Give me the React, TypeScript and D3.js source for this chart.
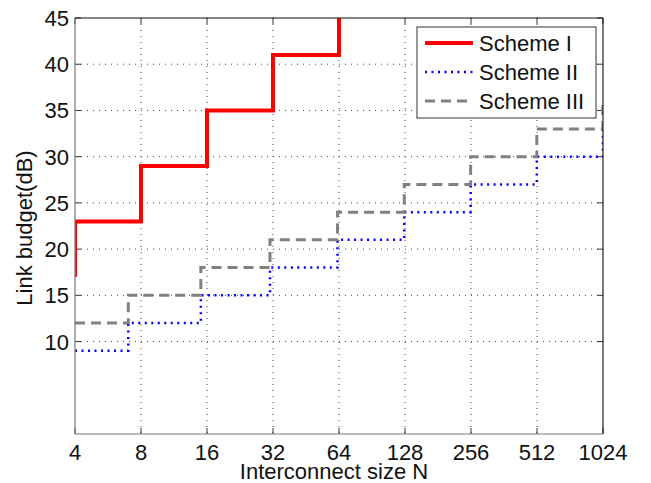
import React from "react";
import * as d3 from "d3";

// Axis ticks
const xTicks = [4, 8, 16, 32, 64, 128, 256, 512, 1024];
const yTicks = [10, 15, 20, 25, 30, 35, 40, 45];

// Step series: each point starts a new level (drawn with curveStepAfter)
const schemeIN = [4, 4, 8, 16, 32, 64];
const schemeIdB = [17, 23, 29, 35, 41, 47];

const schemeIIN = [4, 7, 15, 31, 63, 127, 255, 511, 1023, 1024];
const schemeIIdB = [9, 12, 15, 18, 21, 24, 27, 30, 33, 33];

const schemeIIIN = [4, 7, 15, 31, 63, 127, 255, 511, 1023, 1024];
const schemeIIIdB = [12, 15, 18, 21, 24, 27, 30, 33, 36, 36];

const legendLabels = ["Scheme I", "Scheme II", "Scheme III"];

const W = 651;
const H = 483;
const M = { left: 75, right: 603, top: 18, bottom: 434 };
const FONT = "'Liberation Sans', Arial, sans-serif";
const FS = 22;

export default function App() {
  const x = d3.scaleLog().base(2).domain([4, 1024]).range([M.left, M.right]);
  const y = d3.scaleLinear().domain([0, 45]).range([M.bottom, M.top]);

  const line = d3
    .line<[number, number]>()
    .x((d) => x(d[0]))
    .y((d) => y(d[1]))
    .curve(d3.curveStepAfter);

  const zip = (a: number[], b: number[]) => a.map((v, i) => [v, b[i]] as [number, number]);

  const series = [
    { d: line(zip(schemeIN, schemeIdB)), stroke: "#ff0000", width: 4, dash: undefined as string | undefined },
    { d: line(zip(schemeIIN, schemeIIdB)), stroke: "#0000ff", width: 2.5, dash: "2,4.5" },
    { d: line(zip(schemeIIIN, schemeIIIdB)), stroke: "#808080", width: 3, dash: "10,6" },
  ];

  const tickLen = 6;
  const legend = { x: 417, y: 27, w: 179, h: 91 };

  return (
    <svg
      width={W}
      height={H}
      style={{ position: "absolute", left: 0, top: 0, background: "#fff" }}
      fontFamily={FONT}
    >
      <defs>
        <clipPath id="plot-area">
          <rect x={M.left} y={M.top} width={M.right - M.left} height={M.bottom - M.top} />
        </clipPath>
      </defs>

      {/* grid */}
      <g stroke="#444" strokeWidth={1} strokeDasharray="1,5">
        {xTicks.slice(1, -1).map((t) => (
          <line key={"gx" + t} x1={x(t)} x2={x(t)} y1={M.top} y2={M.bottom} />
        ))}
        {yTicks.slice(0, -1).map((t) => (
          <line key={"gy" + t} x1={M.left} x2={M.right} y1={y(t)} y2={y(t)} />
        ))}
      </g>

      {/* ticks on all four sides, pointing inward */}
      <g stroke="#333" strokeWidth={1}>
        {xTicks.map((t) => (
          <g key={"tx" + t}>
            <line x1={x(t)} x2={x(t)} y1={M.bottom} y2={M.bottom - tickLen} />
            <line x1={x(t)} x2={x(t)} y1={M.top} y2={M.top + tickLen} />
          </g>
        ))}
        {yTicks.map((t) => (
          <g key={"ty" + t}>
            <line x1={M.left} x2={M.left + tickLen} y1={y(t)} y2={y(t)} />
            <line x1={M.right} x2={M.right - tickLen} y1={y(t)} y2={y(t)} />
          </g>
        ))}
      </g>

      {/* data */}
      <g clipPath="url(#plot-area)" fill="none">
        {series.map((s, i) => (
          <path
            key={i}
            d={s.d ?? ""}
            stroke={s.stroke}
            strokeWidth={s.width}
            strokeDasharray={s.dash}
          />
        ))}
      </g>

      {/* frame */}
      <line x1={M.left} x2={M.right} y1={M.top} y2={M.top} stroke="#111" strokeWidth={1.2} />
      <line x1={M.right} x2={M.right} y1={M.top} y2={M.bottom} stroke="#222" strokeWidth={1.2} />
      <line x1={M.left} x2={M.left} y1={M.top} y2={M.bottom} stroke="#777" strokeWidth={1.2} />
      <line x1={M.left} x2={M.right} y1={M.bottom} y2={M.bottom} stroke="#777" strokeWidth={1.2} />

      {/* tick labels */}
      <g fontSize={FS} fill="#111">
        {xTicks.map((t) => (
          <text key={"lx" + t} x={x(t)} y={460} textAnchor="middle">
            {t}
          </text>
        ))}
        {yTicks.map((t) => (
          <text key={"ly" + t} x={69} y={y(t) + 8} textAnchor="end">
            {t}
          </text>
        ))}
      </g>

      {/* axis titles */}
      <text x={334} y={479} fontSize={FS} textAnchor="middle" fill="#111">
        Interconnect size N
      </text>
      <text
        transform={`translate(32, 228) rotate(-90)`}
        fontSize={FS}
        textAnchor="middle"
        fill="#111"
      >
        Link budget(dB)
      </text>

      {/* legend */}
      <g>
        <rect
          x={legend.x}
          y={legend.y}
          width={legend.w}
          height={legend.h}
          fill="#fff"
          stroke="#333"
          strokeWidth={1}
        />
        {legendLabels.map((lab, i) => {
          const cy = legend.y + 16 + i * 29;
          const s = series[i];
          return (
            <g key={lab}>
              <line
                x1={legend.x + 8}
                x2={legend.x + 56}
                y1={cy}
                y2={cy}
                stroke={s.stroke}
                strokeWidth={s.width}
                strokeDasharray={s.dash}
              />
              <text x={legend.x + 62} y={cy + 8} fontSize={FS} fill="#111">
                {lab}
              </text>
            </g>
          );
        })}
      </g>
    </svg>
  );
}
